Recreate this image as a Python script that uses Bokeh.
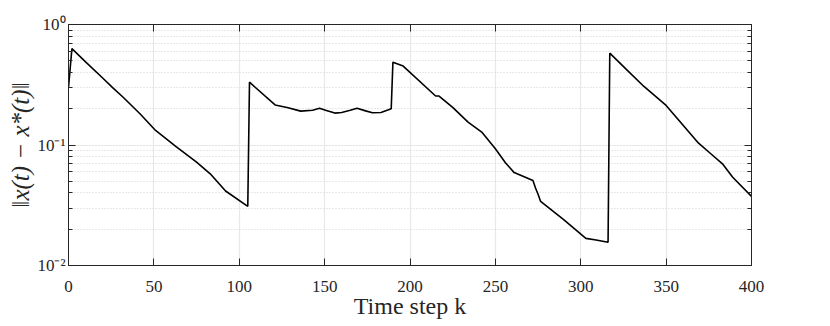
from bokeh.plotting import figure
from bokeh.models import Range1d, FixedTicker, LinearAxis, LogAxis
from bokeh.embed import file_html
from bokeh.resources import INLINE

# Time step k (knots) and error norm values
k_steps = [0, 2, 10, 20, 26, 32, 42, 51, 63, 75, 83, 92, 105,
           106, 121, 128, 136, 143, 147, 151, 156, 160, 165, 169, 174, 178, 183, 187, 189,
           190, 196, 215, 217, 225, 234, 242, 250, 256, 261, 272, 273.5, 275, 276.5,
           290, 303, 309, 316,
           317, 327, 337, 350, 369, 376, 383, 389, 400]
err_norm = [0.30, 0.63, 0.49, 0.36, 0.298, 0.249, 0.181, 0.132, 0.097, 0.072, 0.0577, 0.0415, 0.031,
            0.332, 0.215, 0.205, 0.191, 0.194, 0.202, 0.193, 0.184, 0.186, 0.194, 0.202, 0.192, 0.185, 0.186, 0.195, 0.200,
            0.487, 0.452, 0.255, 0.255, 0.205, 0.155, 0.128, 0.093, 0.071, 0.059, 0.0508, 0.044, 0.039, 0.034,
            0.024, 0.0168, 0.0163, 0.0156,
            0.578, 0.42, 0.306, 0.213, 0.1035, 0.085, 0.0698, 0.054, 0.0374]

x_ticks = [0, 50, 100, 150, 200, 250, 300, 350, 400]
y_ticks = [0.01, 0.1, 1]
y_minor = [0.02, 0.03, 0.04, 0.05, 0.06, 0.07, 0.08, 0.09,
           0.2, 0.3, 0.4, 0.5, 0.6, 0.7, 0.8, 0.9]
y_tick_labels = {0.01: "10\u207b\u00b2", 0.1: "10\u207b\u00b9", 1: "10\u2070"}

x_label = "Time step k"
y_label = "\u2016x(t) \u2212 x*(t)\u2016"

AX = "#262626"
FONT = "Liberation Serif"

p = figure(width=790, height=326, output_backend="svg", toolbar_location=None,
           y_axis_type="log", x_range=Range1d(0, 400), y_range=Range1d(0.01, 1),
           min_border_left=68, min_border_right=39, min_border_top=24, min_border_bottom=61)
p.background_fill_color = "white"
p.border_fill_color = "white"
p.outline_line_color = AX
p.outline_line_width = 1

p.line(k_steps, err_norm, line_color="black", line_width=1.6)

bottom = p.below[0]
left = p.left[0]

xt = FixedTicker(ticks=x_ticks)
yt = FixedTicker(ticks=y_ticks, minor_ticks=y_minor)

bottom.ticker = xt
left.ticker = yt
left.major_label_overrides = y_tick_labels
p.xgrid.ticker = xt
p.ygrid.ticker = yt

top = LinearAxis(ticker=xt, major_label_text_font_size="1px", major_label_text_color=None,
                 major_label_standoff=0)
right = LogAxis(ticker=yt, major_label_text_font_size="1px", major_label_text_color=None,
                major_label_standoff=0)
p.add_layout(top, "above")
p.add_layout(right, "right")

for ax in [bottom, left, top, right]:
    ax.axis_line_color = AX
    ax.major_tick_line_color = AX
    ax.minor_tick_line_color = AX
    ax.major_tick_in = 7
    ax.major_tick_out = 0
    ax.minor_tick_in = 4
    ax.minor_tick_out = 0
    ax.major_label_text_font = FONT
    ax.axis_label_text_font = FONT
    ax.axis_label_text_color = AX
    ax.axis_label_text_font_style = "normal"

for ax in [bottom, top]:
    ax.minor_tick_line_color = None

bottom.major_label_text_color = AX
bottom.major_label_text_font_size = "17px"
bottom.major_label_standoff = 15
bottom.axis_label = x_label
bottom.axis_label_text_font_size = "24px"
bottom.axis_label_standoff = -2

left.major_label_text_color = AX
left.major_label_text_font_size = "17px"
left.major_label_standoff = 3
left.axis_label = y_label
left.axis_label_text_font_size = "25px"
left.axis_label_text_font_style = "italic"
left.axis_label_standoff = 0

p.xgrid.grid_line_color = "#e8e8e8"
p.xgrid.grid_line_width = 1.2
p.ygrid.grid_line_color = "#e8e8e8"
p.ygrid.grid_line_width = 1.2
p.ygrid.minor_grid_line_color = "#d2d2d2"
p.ygrid.minor_grid_line_dash = "1 2"
p.ygrid.minor_grid_line_width = 1

open("out.html", "w").write(file_html(p, INLINE))
